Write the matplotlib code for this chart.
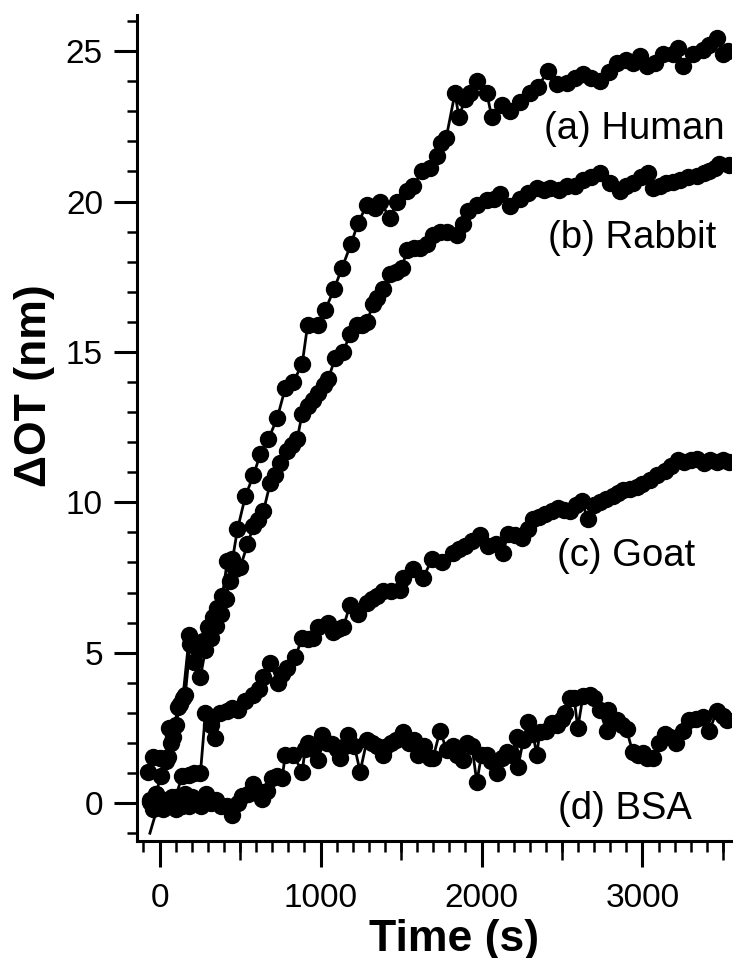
import matplotlib
matplotlib.use('Agg')
import matplotlib.pyplot as plt
from matplotlib.ticker import MultipleLocator

plt.rcParams['font.family'] = ['Liberation Sans', 'DejaVu Sans']

# (a) Human
human_t = [-70, -40, 0, 50, 60, 85, 112, 145, 185, 215, 240, 270, 300, 335, 360, 390,
           421, 453, 484, 533, 583, 626, 676, 731, 781, 831, 886, 920, 986, 1030, 1085,
           1134, 1190, 1234, 1289, 1339, 1370, 1432, 1475, 1537, 1575, 1630, 1680, 1723,
           1750, 1780, 1835, 1860, 1897, 1928, 1970, 2033, 2064, 2126, 2176, 2238, 2300,
           2350, 2412, 2467, 2529, 2580, 2630, 2680, 2734, 2790, 2840, 2900, 2940, 2985,
           3030, 3080, 3125, 3187, 3218, 3250, 3311, 3373, 3416, 3460, 3500, 3530]
human_v = [1.05, 1.55, 1.5, 1.55, 2.5, 2.2, 3.2, 3.5, 5.6, 5.3, 5.2, 5.4, 5.85, 6.2, 6.5, 6.9,
           8.05, 8.1, 9.1, 10.2, 10.9, 11.6, 12.1, 12.8, 13.8, 14.0, 14.6, 15.9, 15.9, 16.4, 17.1,
           17.8, 18.6, 19.3, 19.9, 19.8, 20.0, 19.45, 20.0, 20.35, 20.5, 21.0, 21.1, 21.5,
           21.95, 22.1, 23.6, 22.8, 23.4, 23.6, 24.0, 23.6, 22.8, 23.2, 23.0, 23.3, 23.6,
           23.8, 24.35, 23.9, 23.95, 24.1, 24.25, 24.1, 24.0, 24.3, 24.6, 24.7, 24.6, 24.85,
           24.5, 24.6, 24.9, 24.9, 25.1, 24.5, 24.9, 25.05, 25.2, 25.45, 24.9, 25.0]

# (b) Rabbit
rabbit_t = [-60, -25, 10, 40, 70, 100, 130, 160, 190, 215, 254, 285, 320, 350, 380, 410,
            440, 470, 502, 546, 583, 610, 645, 688, 720, 750, 794, 825, 855, 886, 920, 955,
            986, 1020, 1048, 1091, 1141, 1184, 1227, 1260, 1289, 1327, 1351, 1389, 1432,
            1470, 1506, 1537, 1580, 1618, 1660, 1699, 1740, 1785, 1847, 1885, 1916, 1971,
            2033, 2080, 2114, 2176, 2238, 2290, 2343, 2390, 2424, 2480, 2529, 2580, 2629,
            2680, 2734, 2796, 2858, 2900, 2939, 2990, 3032, 3063, 3110, 3149, 3190, 3230,
            3280, 3336, 3380, 3416, 3450, 3478, 3540]
rabbit_v = [0.05, 0.3, 0.9, 1.4, 2.0, 2.6, 3.3, 3.6, 5.3, 4.7, 4.2, 5.1, 5.5, 5.9, 6.3, 6.8,
            7.4, 7.8, 7.85, 8.6, 9.2, 9.4, 9.7, 10.65, 10.9, 11.3, 11.7, 11.9, 12.1, 12.95, 13.2, 13.4,
            13.65, 13.9, 14.1, 14.8, 15.0, 15.6, 15.9, 15.9, 16.0, 16.6, 16.8, 17.1, 17.6,
            17.65, 17.8, 18.4, 18.45, 18.45, 18.6, 18.9, 19.0, 19.0, 18.9, 19.25, 19.7, 19.9,
            20.05, 20.1, 20.25, 19.85, 20.1, 20.3, 20.45, 20.4, 20.45, 20.4, 20.5, 20.5, 20.7,
            20.8, 20.95, 20.6, 20.35, 20.5, 20.6, 20.8, 20.95, 20.45, 20.5, 20.6, 20.65, 20.7,
            20.8, 20.85, 20.95, 21.0, 21.1, 21.25, 21.2]

# (c) Goat (first point drawn as line only)
goat_t = [-60, -5, 30, 60, 100, 140, 180, 215, 254, 285, 320, 347, 378, 420, 453, 490, 533,
          583, 615, 645, 688, 738, 760, 794, 843, 886, 920, 955, 986, 1048, 1079, 1110, 1141,
          1184, 1234, 1289, 1320, 1350, 1389, 1440, 1494, 1513, 1575, 1637, 1693, 1754, 1823,
          1860, 1897, 1940, 1990, 2040, 2090, 2133, 2164, 2210, 2250, 2290, 2319, 2360, 2393,
          2440, 2474, 2510, 2548, 2590, 2622, 2660, 2700, 2734, 2775, 2815, 2850, 2877, 2920,
          2963, 3000, 3044, 3090, 3140, 3180, 3220, 3260, 3300, 3340, 3380, 3420, 3460, 3500,
          3540]
goat_v = [-1.0, 0.0, -0.1, 0.0, 0.2, 0.9, 0.95, 1.0, 1.0, 3.0, 2.6, 2.15, 3.0, 3.05, 3.15, 3.1, 3.4,
          3.6, 3.8, 4.2, 4.65, 4.0, 4.3, 4.5, 4.85, 5.5, 5.45, 5.5, 5.85, 6.0, 5.7, 5.8, 5.85,
          6.6, 6.3, 6.65, 6.8, 6.9, 7.05, 7.05, 7.1, 7.5, 7.8, 7.5, 8.1, 8.0, 8.3,
          8.45, 8.55, 8.7, 8.9, 8.55, 8.6, 8.3, 8.95, 8.9, 8.8, 9.1, 9.45, 9.5, 9.6,
          9.7, 9.8, 9.75, 9.7, 9.9, 10.05, 9.45, 9.9, 10.0, 10.1, 10.2, 10.3, 10.4, 10.45,
          10.5, 10.6, 10.75, 10.9, 11.05, 11.2, 11.4, 11.35, 11.4, 11.45, 11.3, 11.4, 11.35, 11.4,
          11.35]

# (d) BSA
bsa_t = [-60, -40, -20, 0, 20, 40, 60, 80, 100, 120, 140, 160, 180, 200, 230, 260, 290, 320,
         350, 380, 420, 453, 485, 515, 550, 583, 610, 638, 670, 700, 730, 762, 781, 830, 886,
         905, 924, 955, 986, 1010, 1040, 1072, 1100, 1122, 1150, 1172, 1210, 1246, 1289, 1320,
         1350, 1389, 1401, 1440, 1470, 1513, 1550, 1580, 1606, 1640, 1680, 1699, 1742, 1785,
         1820, 1847, 1885, 1910, 1940, 1971, 2000, 2033, 2060, 2095, 2130, 2157, 2190, 2219,
         2226, 2260, 2288, 2320, 2343, 2362, 2400, 2436, 2470, 2500, 2517, 2548, 2575, 2598,
         2630, 2672, 2700, 2734, 2777, 2784, 2810, 2840, 2870, 2901, 2939, 2970, 3001, 3030,
         3063, 3100, 3137, 3170, 3211, 3250, 3292, 3330, 3373, 3416, 3460, 3500, 3528]
bsa_v = [0.1, -0.2, 0.3, 0.0, -0.2, 0.1, -0.1, 0.2, -0.2, 0.1, -0.1, 0.3, -0.1, 0.2, 0.0, -0.1, 0.3, 0.0,
         0.1, -0.1, -0.1, -0.4, 0.0, 0.25, 0.3, 0.65, 0.4, 0.15, 0.4, 0.85, 0.9, 0.85, 1.6, 1.6, 1.05,
         1.8, 2.0, 1.8, 1.45, 2.25, 2.0, 1.95, 1.8, 1.5, 1.9, 2.25, 1.9, 1.05, 2.1, 2.0,
         1.9, 1.6, 1.85, 2.0, 2.1, 2.35, 2.0, 2.1, 1.6, 1.9, 1.5, 1.5, 2.4, 1.75,
         1.9, 1.6, 1.45, 2.0, 1.9, 0.7, 1.6, 1.6, 1.4, 1.0, 1.5, 1.7, 1.6, 2.2,
         1.2, 2.1, 2.7, 2.3, 1.6, 2.35, 2.4, 2.65, 2.6, 2.8, 3.0, 3.5, 3.5, 2.5,
         3.55, 3.6, 3.5, 3.1, 2.4, 3.1, 2.8, 2.75, 2.6, 2.45, 1.7, 1.6, 1.65, 1.5,
         1.5, 2.0, 2.3, 2.2, 2.0, 2.4, 2.75, 2.8, 2.85, 2.4, 3.05, 2.9, 2.75]

labels = ['(a) Human', '(b) Rabbit', '(c) Goat', '(d) BSA']
label_t = [3510, 3460, 3325, 3305]
label_v = [22.4, 18.8, 8.2, -0.2]

fig = plt.figure(figsize=(7.37, 9.58), dpi=100)
ax = fig.add_axes([0.1859, 0.1221, 0.806, 0.8622])

style = dict(color='black', marker='o', markersize=11.5, linewidth=2.0)
ax.plot(human_t, human_v, **style)
ax.plot(rabbit_t, rabbit_v, **style)
ax.plot(goat_t, goat_v, markevery=slice(1, None), **style)
ax.plot(bsa_t, bsa_v, **style)

for lab, lt, lv in zip(labels, label_t, label_v):
    ax.text(lt, lv, lab, fontsize=27.5, ha='right', va='center')

ax.set_xlim(-140, 3550)
ax.set_ylim(-1.26, 26.2)

for s in ['top', 'right']:
    ax.spines[s].set_visible(False)
for s in ['left', 'bottom']:
    ax.spines[s].set_linewidth(2.2)

ax.xaxis.set_major_locator(MultipleLocator(1000))
ax.xaxis.set_minor_locator(MultipleLocator(100))
ax.yaxis.set_major_locator(MultipleLocator(5))
ax.yaxis.set_minor_locator(MultipleLocator(1))
ax.tick_params(axis='x', which='major', length=18.5, width=2.2, labelsize=24, pad=12)
ax.tick_params(axis='x', which='minor', length=8, width=1.8)
ax.tick_params(axis='y', which='major', length=16.5, width=2.2, labelsize=24, pad=8)
ax.tick_params(axis='y', which='minor', length=7.2, width=1.8)

# medium ticks at the half-thousands
sec = ax.secondary_xaxis('bottom')
sec.set_xticks([500, 1500, 2500, 3500])
sec.tick_params(length=13.5, width=1.8, labelbottom=False)
sec.spines['bottom'].set_visible(False)

ax.set_xlabel('Time (s)', fontsize=32, fontweight='bold')
ax.xaxis.set_label_coords(0.534, -0.094)
ax.set_ylabel('ΔOT (nm)', fontsize=32, fontweight='bold')
ax.yaxis.set_label_coords(-0.138, 0.551)

fig.savefig('out.png', dpi=100)
